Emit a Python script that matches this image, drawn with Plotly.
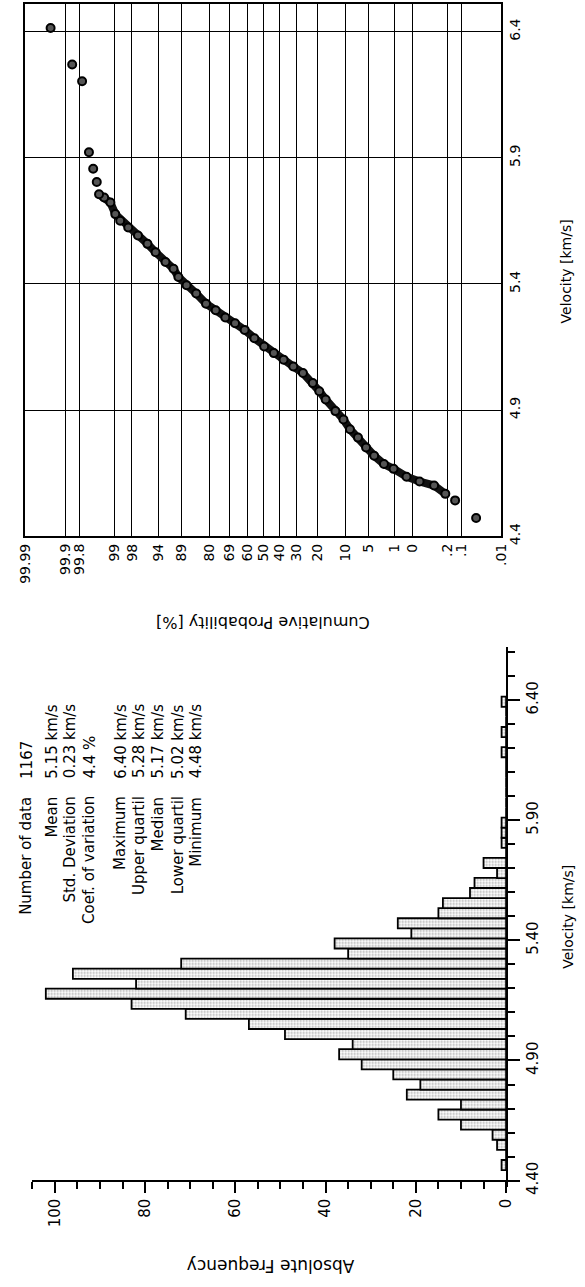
import plotly.graph_objects as go
from statistics import NormalDist

# ---------------- data ----------------
# Histogram: bin centres (km/s) and absolute frequencies
bin_centers = [4.465, 4.507, 4.549, 4.591, 4.633, 4.675, 4.717, 4.758, 4.800, 4.842,
               4.884, 4.926, 4.968, 5.010, 5.052, 5.094, 5.136, 5.178, 5.220, 5.261,
               5.303, 5.345, 5.387, 5.429, 5.471, 5.513, 5.555, 5.597, 5.639, 5.680,
               5.722, 5.764, 5.806, 5.848, 5.890, 5.932, 5.974, 6.016, 6.058, 6.100,
               6.142, 6.183, 6.225, 6.267, 6.309, 6.351, 6.393]
counts = [1, 0, 2, 3, 10, 15, 10, 22, 19, 25,
          32, 37, 34, 49, 57, 71, 83, 102, 82, 96,
          72, 35, 38, 21, 24, 15, 14, 8, 7, 2,
          5, 0, 1, 1, 1, 0, 0, 0, 0, 0,
          0, 1, 0, 1, 0, 0, 1]
BIN_WIDTH = 0.0419

# Probability plot: cumulative probability (%) vs velocity (km/s)
cum_prob = [0.044, 0.136, 0.222, 0.38, 0.73, 1.26, 2.09, 2.97, 4.16, 5.42,
            6.95, 8.79, 10.53, 13.0, 16.5, 19.1, 22.0, 26.8, 32.0, 37.6,
            43.5, 49.5, 55.6, 61.5, 67.1, 72.4, 77.2, 81.5, 85.3, 88.5,
            90.8, 92.0, 93.7, 95.4, 96.5, 97.5, 98.27, 98.74, 98.97, 99.16,
            99.36, 99.49, 99.54, 99.61, 99.68, 99.77, 99.86, 99.956]
velocity = [4.472, 4.542, 4.568, 4.601, 4.617, 4.636, 4.667, 4.686, 4.719, 4.752,
            4.791, 4.824, 4.863, 4.896, 4.942, 4.975, 5.007, 5.047, 5.073, 5.100,
            5.126, 5.152, 5.185, 5.218, 5.244, 5.267, 5.296, 5.322, 5.362, 5.395,
            5.428, 5.460, 5.487, 5.526, 5.559, 5.592, 5.624, 5.651, 5.677, 5.723,
            5.743, 5.756, 5.804, 5.857, 5.922, 6.204, 6.270, 6.415]

prob_ticks = [99.99, 99.9, 99.8, 99, 98, 95, 90, 80, 70, 60, 50, 40, 30, 20,
              10, 5, 2, 1, 0.2, 0.1, 0.01]
prob_ticktext = ["99.99", "99.9", "99.8", "99", "98", "94", "89", "80", "69", "60",
                 "50", "40", "30", "20", "10", "5", "1", "0", ".2", ".1", ".01"]
vel_ticks_prob = [4.4, 4.9, 5.4, 5.9, 6.4]

stat_labels = ["Number of data", "Mean", "Std. Deviation", "Coef. of variation",
               "Maximum", "Upper quartil", "Median", "Lower quartil", "Minimum"]
stat_values = ["1167", "5.15 km/s", "0.23 km/s", "4.4 %",
               "6.40 km/s", "5.28 km/s", "5.17 km/s", "5.02 km/s", "4.48 km/s"]

# ---------------- layout helpers (pixel -> paper) ----------------
W, H = 585, 1287
def fx(p):
    return p / W
def fy(p):
    return 1 - p / H

ND = NormalDist()
def probit(pct):
    return ND.inv_cdf(pct / 100.0)

FONT = "DejaVu Sans"
stat_line_x = [19, 45, 64, 84, 116, 135, 154, 175, 194]

fig = go.Figure()

# ---- probability plot (upper part of the rotated page) ----
zp = [probit(p) for p in cum_prob]
band = slice(2, 42)
fig.add_trace(go.Scatter(
    x=zp[band], y=velocity[band], mode="lines",
    line=dict(color="#111111", width=8), hoverinfo="skip",
    xaxis="x", yaxis="y", showlegend=False))
fig.add_trace(go.Scatter(
    x=zp, y=velocity, mode="markers",
    marker=dict(symbol="circle", size=8, color="#555555",
                line=dict(color="black", width=2)),
    xaxis="x", yaxis="y", showlegend=False))

# ---- histogram (lower part, horizontal bars) ----
fig.add_trace(go.Bar(
    y=bin_centers, x=counts, orientation="h", width=BIN_WIDTH,
    marker=dict(color="white", line=dict(color="black", width=1.8),
                pattern=dict(shape=".", fgcolor="#555555", bgcolor="white",
                             size=3, solidity=0.35)),
    xaxis="x2", yaxis="y2", showlegend=False))

z_top = probit(99.99)
fig.update_layout(
    width=W, height=H,
    margin=dict(l=0, r=0, t=0, b=0),
    paper_bgcolor="white", plot_bgcolor="white",
    font=dict(family=FONT, color="black"),
    showlegend=False,
    xaxis=dict(
        domain=[fx(18), fx(508)], range=[z_top, -z_top], anchor="y",
        tickmode="array", tickvals=[probit(p) for p in prob_ticks],
        ticktext=prob_ticktext, tickangle=-90, ticks="",
        tickfont=dict(size=14, family=FONT),
        showgrid=True, gridcolor="black", gridwidth=1.3,
        showline=True, linecolor="black", linewidth=1.8, mirror=True,
        zeroline=False),
    yaxis=dict(
        domain=[fy(540), fy(4)], range=[4.4, 6.51], anchor="x", side="right",
        tickmode="array", tickvals=vel_ticks_prob, ticktext=[f"{v:.1f}" for v in vel_ticks_prob],
        tickangle=-90, ticks="", tickfont=dict(size=14, family=FONT),
        showgrid=True, gridcolor="black", gridwidth=1.3,
        showline=True, linecolor="black", linewidth=1.8, mirror=True,
        zeroline=False),
    xaxis2=dict(
        domain=[fx(25), fx(513)], range=[105, 0], anchor="free", position=fy(1189),
        tickmode="linear", tick0=0, dtick=20, ticks="outside", ticklen=11,
        tickwidth=1.8, tickcolor="black", tickangle=-90,
        tickfont=dict(size=15, family=FONT),
        minor=dict(dtick=5, tick0=0, ticks="outside", ticklen=7, tickwidth=1.8,
                   tickcolor="black", showgrid=False),
        showgrid=False, zeroline=False,
        showline=True, linecolor="black", linewidth=2),
    yaxis2=dict(
        domain=[fy(1195), fy(652)], range=[4.375, 6.619], anchor="x2", side="right",
        tickmode="linear", tick0=4.4, dtick=0.5, tickformat=".2f",
        ticks="outside", ticklen=12, tickwidth=1.8, tickcolor="black", tickangle=-90,
        tickfont=dict(size=15, family=FONT),
        minor=dict(dtick=0.1, tick0=4.4, ticks="outside", ticklen=7, tickwidth=1.8,
                   tickcolor="black", showgrid=False),
        showgrid=False, zeroline=False,
        showline=True, linecolor="black", linewidth=2),
)

ann = []
# axis titles (rotated like the page)
ann.append(dict(text="Velocity [km/s]", x=fx(575), y=fy(273), textangle=-90,
                font=dict(size=14, family=FONT)))
ann.append(dict(text="Velocity [km/s]", x=fx(576), y=fy(923), textangle=-90,
                font=dict(size=14, family=FONT)))
ann.append(dict(text="Cumulative Probability [%]", x=fx(262), y=fy(627), textangle=180,
                font=dict(size=16, family=FONT)))
ann.append(dict(text="Absolute Frequency", x=fx(270), y=fy(1275), textangle=180,
                font=dict(size=17, family=FONT)))
for a in ann:
    a.update(xref="paper", yref="paper", showarrow=False,
             xanchor="center", yanchor="middle")

# statistics block
for lab, val, lx in zip(stat_labels, stat_values, stat_line_x):
    ann.append(dict(text=lab, x=fx(lx), y=fy(800), xref="paper", yref="paper",
                    textangle=-90, showarrow=False, xanchor="center", yanchor="top",
                    font=dict(size=15, family=FONT)))
    ann.append(dict(text=val, x=fx(lx), y=fy(786), xref="paper", yref="paper",
                    textangle=-90, showarrow=False, xanchor="center", yanchor="bottom",
                    font=dict(size=15, family=FONT)))

fig.update_layout(annotations=ann)
fig.write_html("out.html")
